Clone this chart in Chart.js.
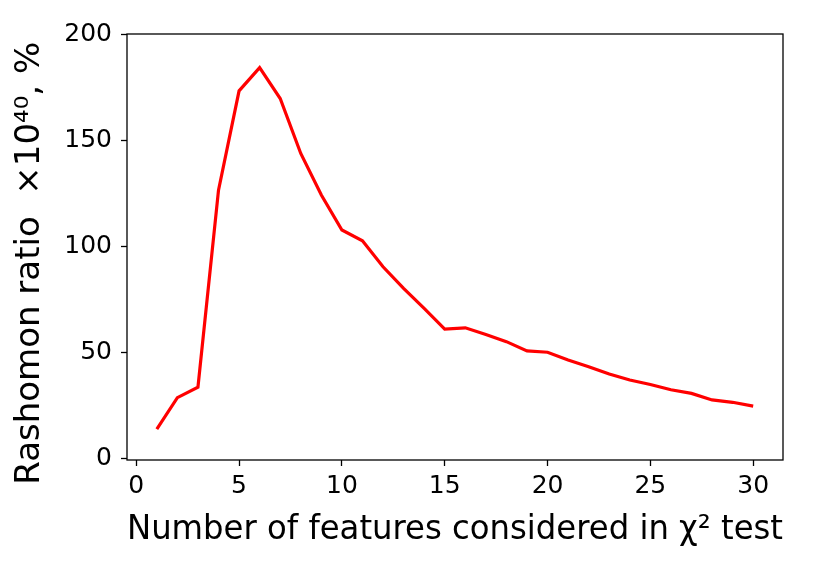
<!DOCTYPE html>
<html><head><meta charset="utf-8">
<script src="https://cdn.jsdelivr.net/npm/chart.js@4"></script>
<style>html,body{margin:0;padding:0;background:#fff}#wrap{width:831px;height:564px}</style>
</head><body><div id="wrap"><canvas id="c"></canvas></div>
<script>
const features = [1,2,3,4,5,6,7,8,9,10,11,12,13,14,15,16,17,18,19,20,21,22,23,24,25,26,27,28,29,30];
const ratio = [13.7,28.6,33.5,126.4,173.2,184.1,169.6,143.7,124.1,107.6,102.5,90.3,80.1,70.7,60.9,61.5,58.4,55.0,50.6,50.0,46.3,43.2,39.7,36.9,34.8,32.3,30.6,27.5,26.4,24.6];
const xTicks = [0,5,10,15,20,25,30];
const yTicks = [0,50,100,150,200];
const xTitle = 'Number of features considered in \u03C7\u00B2 test';
const yTitle = 'Rashomon ratio  \u00D710\u2074\u2070, %   ';

const frame = {id:'frame', afterDraw(chart){const a=chart.chartArea,ctx=chart.ctx;ctx.save();ctx.strokeStyle='#000';ctx.lineWidth=1.3;ctx.strokeRect(a.left,a.top,a.right-a.left,a.bottom-a.top);ctx.restore();}};
const font = 'DejaVu Sans';
new Chart(document.getElementById('c'), {
  type:'line',
  data:{datasets:[{data:features.map((f,i)=>({x:f,y:ratio[i]})),borderColor:'#ff0000',borderWidth:3.2,pointRadius:0,tension:0,fill:false}]},
  options:{
    responsive:true, maintainAspectRatio:false, animation:false,
    layout:{padding:{left:0,top:34,right:48,bottom:0}},
    plugins:{legend:{display:false},tooltip:{enabled:false}},
    scales:{
      x:{type:'linear',min:-0.45,max:31.45,
        afterBuildTicks:s=>{s.ticks=xTicks.map(v=>({value:v}));},
        afterFit:s=>{s.height=104;},
        grid:{drawOnChartArea:false,drawTicks:true,tickLength:6,tickWidth:1.3,tickColor:'#000'},
        border:{display:false},
        ticks:{color:'#000',font:{family:font,size:25},padding:5,maxRotation:0,callback:v=>v},
        title:{display:true,text:xTitle,color:'#000',font:{family:font,size:34},padding:{top:0,bottom:13}}
      },
      y:{type:'linear',min:-0.8,max:200,
        afterBuildTicks:s=>{s.ticks=yTicks.map(v=>({value:v}));},
        afterFit:s=>{s.width=127;},
        grid:{drawOnChartArea:false,drawTicks:true,tickLength:6,tickWidth:1.3,tickColor:'#000'},
        border:{display:false},
        ticks:{color:'#000',font:{family:font,size:25},padding:9,callback:v=>v},
        title:{display:true,text:yTitle,color:'#000',font:{family:font,size:34},padding:{top:10,bottom:0}}
      }
    }
  },
  plugins:[frame]
});
</script></body></html>
